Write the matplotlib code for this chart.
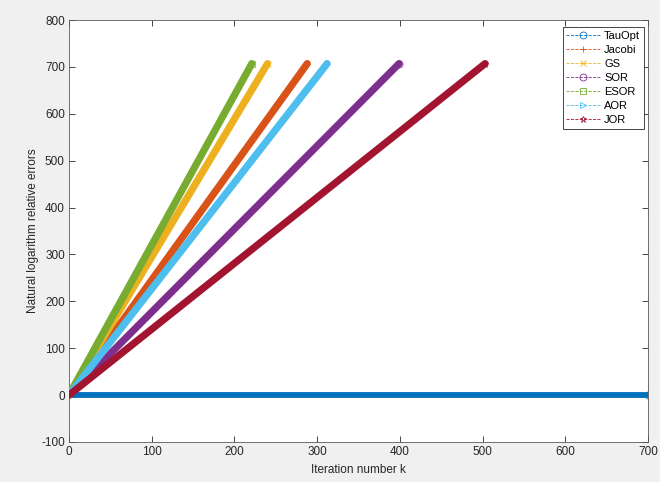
import matplotlib
matplotlib.use("Agg")
import matplotlib.pyplot as plt
from matplotlib.lines import Line2D

# method names, iterations until the log error hits its cap, and that cap
methods = ['TauOpt', 'Jacobi', 'GS', 'SOR', 'ESOR', 'AOR', 'JOR']
last_iter = [700, 288, 240, 399, 221, 312, 503]
last_value = [0, 707, 707, 707, 707, 707, 707]
start_iter = [0, 0, 0, 0, 0, 0, 0]
start_value = [0, 0, 0, 0, 0, 0, 0]

colors = ['#0072BD', '#D95319', '#EDB120', '#7E2F8E', '#77AC30', '#4DBEEE', '#A2142F']
markers = ['o', '+', 'x', 'o', 's', '>', '*']

plt.rcParams['font.family'] = ['Liberation Sans', 'DejaVu Sans']
plt.rcParams['axes.unicode_minus'] = False

fig = plt.figure(figsize=(6.6, 4.82), dpi=100, facecolor='#f0f0f0')
ax = fig.add_axes([0.1045, 0.083, 0.8775, 0.8755])

for i, name in enumerate(methods):
    xs = [start_iter[i], last_iter[i]]
    ys = [start_value[i], last_value[i]]
    lw = 4.2 if name == 'TauOpt' else 5.2
    ax.plot(xs, ys, color=colors[i], lw=lw, solid_capstyle='round', zorder=2 + i)
    ax.plot(xs[-1:], ys[-1:], color=colors[i], marker=markers[i], ms=5,
            mfc='none', mew=0.8, ls='none', alpha=0.7, zorder=2 + i)

ax.set_xlim(0, 700)
ax.set_ylim(-100, 800)
ax.set_xticks(range(0, 701, 100))
ax.set_yticks(range(-100, 801, 100))
ax.tick_params(direction='in', length=4, width=0.6, labelsize=8.5,
               colors='#262626', top=True, right=True, pad=3)
for s in ax.spines.values():
    s.set_color('#5a5a5a')
    s.set_linewidth(0.6)

ax.set_xlabel('Iteration number k', fontsize=8.5, color='#262626', labelpad=4)
ax.set_ylabel('Natural logarithm relative errors', fontsize=8.5, color='#262626')
ax.yaxis.set_label_coords(-0.052, 0.5)

handles = [Line2D([], [], color=c, ls='--', lw=0.6, marker=m, ms=5, mfc='none', mew=0.6)
           for c, m in zip(colors, markers)]
leg = ax.legend(handles, methods, loc='upper right', fontsize=8, frameon=True,
                fancybox=False, edgecolor='#262626', framealpha=1,
                bbox_to_anchor=(0.993, 0.9834), borderaxespad=0,
                handlelength=3.0, handletextpad=0.4,
                borderpad=0.35, labelspacing=0.36)
leg.get_frame().set_linewidth(0.6)

fig.savefig('out.png', dpi=100, facecolor=fig.get_facecolor())
